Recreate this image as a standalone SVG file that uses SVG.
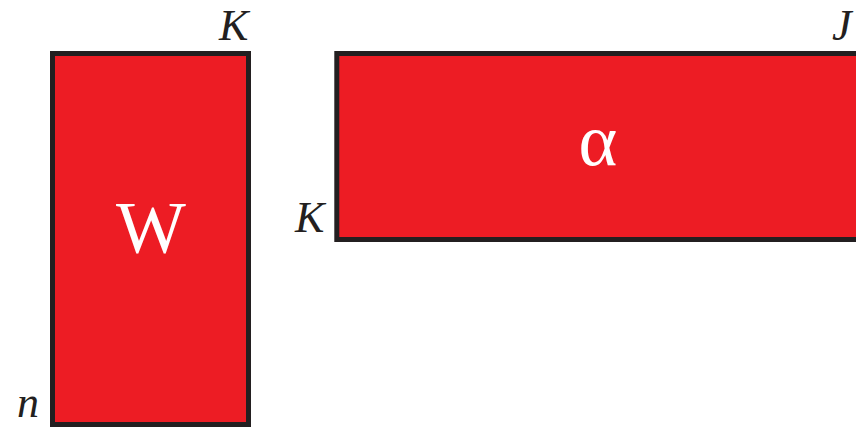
<svg xmlns="http://www.w3.org/2000/svg" width="856" height="428" viewBox="0 0 856 428">
<style>
.box{fill:#ED1C24;stroke:#231F20;stroke-width:5}
.lbl{font-family:'Liberation Serif','Times New Roman','DejaVu Serif',serif;font-style:italic;font-size:44px;fill:#231F20}
.sym{font-family:'Liberation Serif','Times New Roman','DejaVu Serif',serif;fill:#FFFFFF;text-anchor:middle}
</style>
<rect width="856" height="428" fill="#FFFFFF"/>
<g id="W">
<rect class="box" x="52.5" y="53.5" width="196" height="371"/>
<text class="sym" x="151" y="253" font-size="74">W</text>
<text class="lbl" x="219" y="40">K</text>
<text class="lbl" x="17" y="417">n</text>
</g>
<g id="alpha">
<rect class="box" x="336.8" y="53.5" width="540" height="186"/>
<text class="sym" x="598" y="165" font-size="74">α</text>
<text class="lbl" x="832" y="40">J</text>
<text class="lbl" x="295" y="232">K</text>
</g>
<g id="connectors"/>
</svg>
